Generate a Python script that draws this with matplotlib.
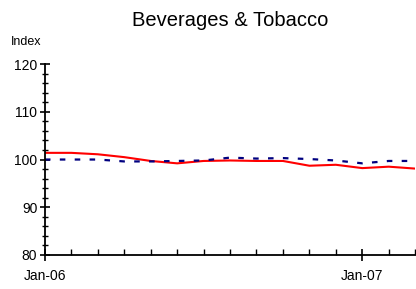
import numpy as np
import matplotlib.pyplot as plt
from matplotlib.ticker import MultipleLocator

plt.rcParams['font.family'] = ['Liberation Sans', 'DejaVu Sans']

months = np.arange(15)  # Jan-06 .. Mar-07
tick_labels = ['Jan-06', 'Jan-07']
red_series = [101.4, 101.4, 101.1, 100.5, 99.7, 99.2, 99.7, 99.8, 99.7, 99.7,
              98.7, 98.9, 98.2, 98.5, 98.1]
blue_series = [100.0, 100.0, 100.0, 99.6, 99.6, 99.7, 99.8, 100.4, 100.2, 100.3,
               100.1, 99.8, 99.2, 99.7, 99.7]

fig = plt.figure(figsize=(4.16, 2.89), dpi=100)
ax = fig.add_axes([0.108, 0.118, 0.890, 0.660])

ax.plot(months, red_series, color='#ff0000', lw=1.5)
ax.plot(months, blue_series, color='#000080', lw=1.6, linestyle=(0, (2.5, 4.2)))

ax.set_xlim(0, 14)
ax.set_ylim(80, 120)
ax.yaxis.set_major_locator(MultipleLocator(10))
ax.yaxis.set_minor_locator(MultipleLocator(2))
ax.set_xticks([0, 12])
ax.set_xticklabels(tick_labels)
ax.set_xticks(months, minor=True)

for s in ['top', 'right']:
    ax.spines[s].set_visible(False)
ax.spines['left'].set_linewidth(1.3)
ax.spines['bottom'].set_linewidth(1.3)

ax.tick_params(axis='y', which='major', direction='inout', length=7, width=1.2, labelsize=10, pad=2)
ax.tick_params(axis='y', which='minor', direction='inout', length=4, width=1)
ax.tick_params(axis='x', which='major', direction='inout', length=9, width=1.2, labelsize=10, pad=6)
ax.tick_params(axis='x', which='minor', direction='in', length=4, width=1)

fig.text(0.553, 0.93, 'Beverages & Tobacco', ha='center', va='center', fontsize=14.5)
fig.text(0.025, 0.855, 'Index', ha='left', va='center', fontsize=9)

fig.savefig('out.png', dpi=100)
